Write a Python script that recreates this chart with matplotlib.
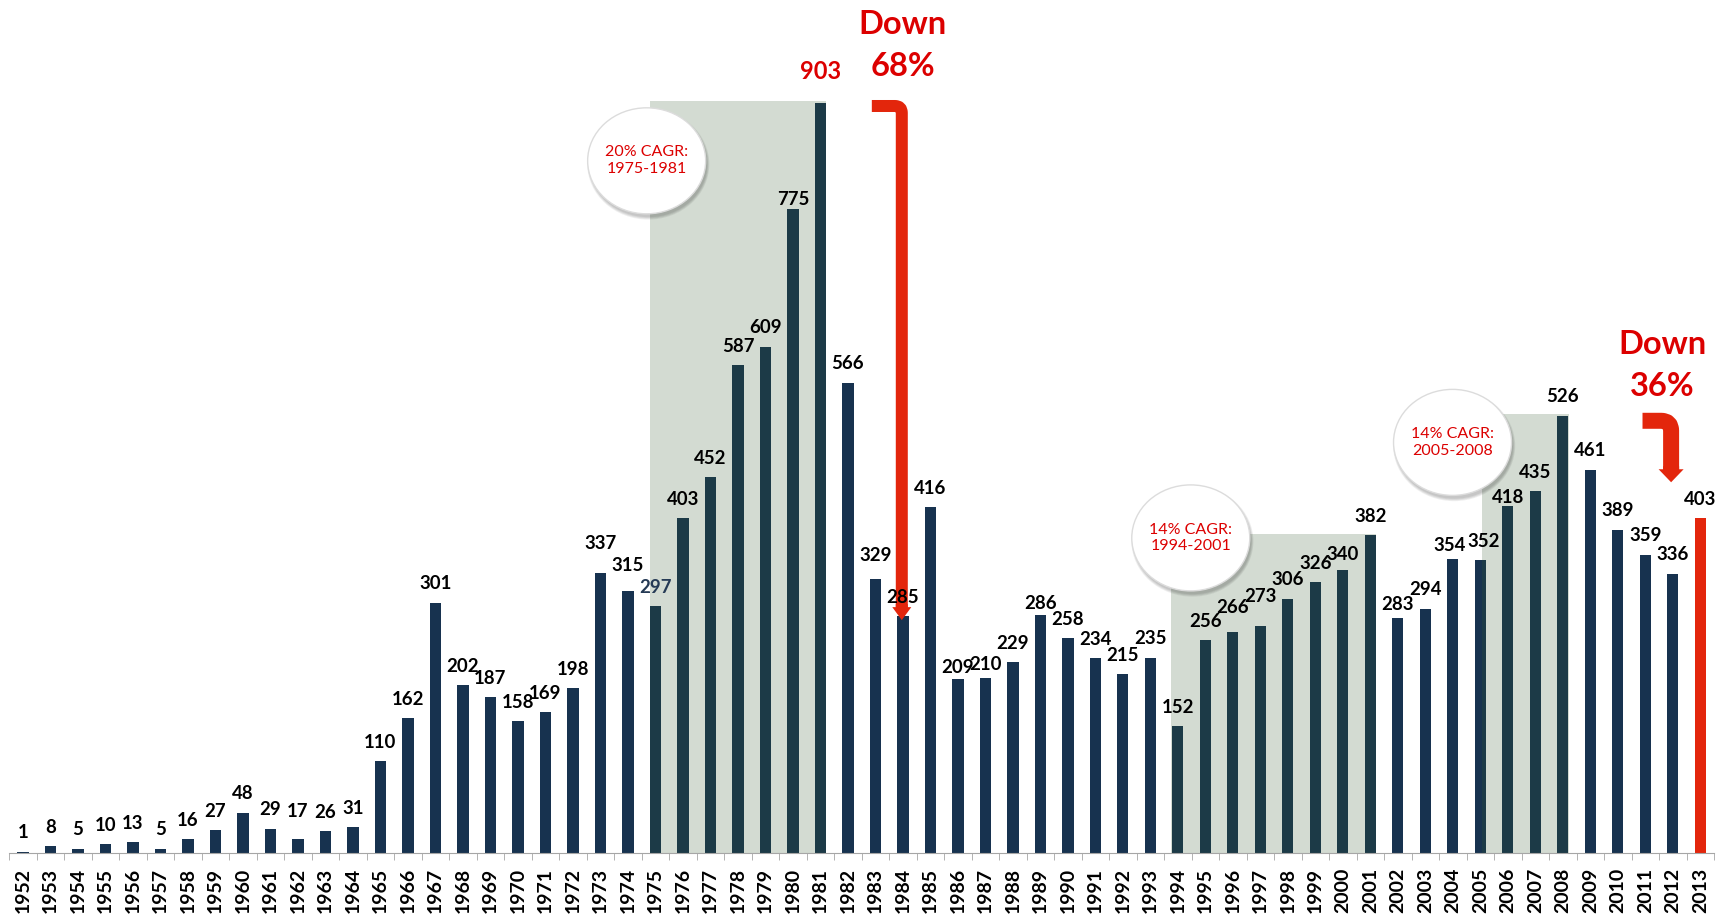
import numpy as np
import matplotlib.pyplot as plt
from matplotlib.patches import Ellipse, Rectangle

plt.rcParams['font.family'] = ['Lato', 'DejaVu Sans']

# data
years = list(range(1952, 2014))
values = [1, 8, 5, 10, 13, 5, 16, 27, 48, 29, 17, 26, 31,
          110, 162, 301, 202, 187, 158, 169, 198,
          337, 315, 297, 403, 452, 587, 609, 775, 903,
          566, 329, 285, 416, 209, 210, 229, 286, 258, 234, 215, 235,
          152, 256, 266, 273, 306, 326, 340, 382,
          283, 294, 354, 352, 418, 435, 526, 461, 389, 359, 336, 403]
cagr_periods = [(1975, 1981), (1994, 2001), (2005, 2008)]
cagr_labels = ['20% CAGR:\n1975-1981', '14% CAGR:\n1994-2001', '14% CAGR:\n2005-2008']

# styling
NAVY = '#17324f'
RED = '#e3260c'
TXT_RED = '#dc0000'
PX = 0.72  # points per pixel at dpi 100

# label centre height above bar top (px), default 20; small x nudges (px)
label_off = {1962: 28, 1973: 30, 1974: 27, 1980: 11, 1981: 32, 1983: 25,
             1986: 13, 1987: 15, 1989: 13, 1996: 25, 1997: 31, 2000: 17,
             2002: 14, 2004: 14, 2006: 9}
label_dx = {2004: -3, 2005: 3}
shade_pad = [(0.21, 0.21), (0.26, 0.21), (-0.05, 0.21)]
bubble_x = [1974.68, 1994.47, 2003.99]
bubble_y = [833, 379, 494]

W, H = 1722, 917
fig = plt.figure(figsize=(W / 100, H / 100), dpi=100)
x0, x1, base = 9.3, 1714, 852.7
ax = fig.add_axes([x0 / W, (H - base) / H, (x1 - x0) / W, base / H])
ppu = 0.8306  # px per value unit
ax.set_ylim(0, base / ppu)
ax.set_xlim(years[0] - 0.5, years[-1] + 0.5)

colors = [NAVY] * (len(years) - 1) + [RED]
ax.bar(years, values, width=0.41, color=colors, zorder=2)

# shaded growth periods
for (a, b), (pl, pr) in zip(cagr_periods, shade_pad):
    top = max(values[years.index(a):years.index(b) + 1]) + 2
    ax.add_patch(Rectangle((a - pl, 0), (b + pr) - (a - pl), top,
                           facecolor='#33592d', alpha=0.21, lw=0, zorder=3))

# bubbles
ew, eh = 118 / 27.5, 106 / ppu
for bx, by, txt in zip(bubble_x, bubble_y, cagr_labels):
    for k in range(4):
        ax.add_patch(Ellipse((bx + 0.06, by - 4), ew + 0.05 * k, eh + 2 * k,
                             facecolor='#000000', alpha=0.06, lw=0, zorder=6))
    ax.add_patch(Ellipse((bx, by), ew, eh, facecolor='white',
                         edgecolor='#dcdcdc', lw=1, zorder=7))
    ax.text(bx, by, txt, ha='center', va='center', fontsize=11.5,
            color=TXT_RED, linespacing=1.25, zorder=8)


def bent_arrow(start, tip, width, head_w, head_l, rad):
    ax.annotate('', xy=tip, xytext=start,
                arrowprops=dict(arrowstyle='-', color=RED, lw=width * PX,
                                connectionstyle=f'angle,angleA=0,angleB=90,rad={rad}',
                                shrinkA=0, shrinkB=head_l * PX, capstyle='butt'),
                zorder=10)
    ax.annotate('', xy=tip, xytext=(0, (head_l + 3) * PX), textcoords='offset points',
                arrowprops=dict(arrowstyle=f'simple,head_length={head_l * PX},'
                                           f'head_width={head_w * PX},tail_width={width * PX}',
                                color=RED, lw=0, shrinkA=0, shrinkB=0, mutation_scale=1),
                zorder=10)


bent_arrow((1982.87, 899), (1983.96, 280), 12, 19, 13, 7)
bent_arrow((2010.9, 520), (2011.94, 446), 16, 25, 13, 10)

# value labels
for yr, v in zip(years, values):
    off = label_off.get(yr, 20)
    dx = label_dx.get(yr, 0)
    if yr == 1981:
        ax.annotate(str(v), (yr, v), xytext=(0, (off - 8.5) * PX),
                    textcoords='offset points', ha='center', va='baseline',
                    fontsize=17, fontweight='bold', color=TXT_RED, zorder=11)
        continue
    col = '#253a55' if yr == 1975 else 'black'
    ax.annotate(str(v), (yr, v), xytext=(dx * PX, (off - 6.6) * PX),
                textcoords='offset points', ha='center', va='baseline',
                fontsize=13.4, fontweight='bold', color=col, zorder=11)

ax.text(1984.0, 986, 'Down', ha='center', va='baseline', fontsize=23.5,
        fontweight='bold', color=TXT_RED)
ax.text(1984.0, 935, '68%', ha='center', va='baseline', fontsize=23.5,
        fontweight='bold', color=TXT_RED)
ax.text(2011.63, 600, 'Down', ha='center', va='baseline', fontsize=23.5,
        fontweight='bold', color=TXT_RED)
ax.text(2011.63, 550, '36%', ha='center', va='baseline', fontsize=23.5,
        fontweight='bold', color=TXT_RED)

# axis
for s in ['top', 'right', 'left']:
    ax.spines[s].set_visible(False)
ax.spines['bottom'].set_color('#a6a6a6')
ax.set_yticks([])
ax.set_xticks(years)
ax.set_xticklabels([str(y) for y in years], rotation=90, fontsize=14,
                   fontweight='bold')
ax.set_xticks(np.arange(years[0] - 0.5, years[-1] + 1), minor=True)
ax.tick_params(axis='x', which='major', length=0, pad=11)
ax.tick_params(axis='x', which='minor', length=5, color='#a6a6a6')

fig.savefig('out.png', dpi=100)
